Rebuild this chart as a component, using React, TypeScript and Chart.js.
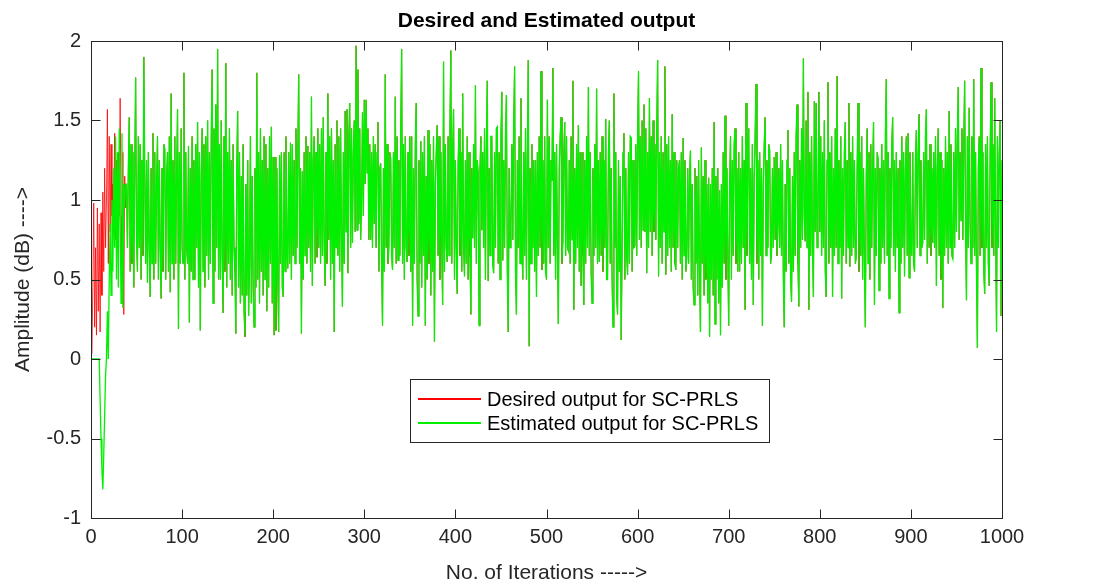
import React, { useEffect, useRef } from "react";
import { Chart, registerables } from "chart.js";

Chart.register(...registerables);

const chartTitle = "Desired and Estimated output";
const xAxisTitle = "No. of Iterations ----->";
const yAxisTitle = "Amplitude (dB) ---->";
const desiredLabel = "Desired output for SC-PRLS";
const estimatedLabel = "Estimated output for SC-PRLS";

const xTickValues = [0, 100, 200, 300, 400, 500, 600, 700, 800, 900, 1000];
const xTickLabels = ["0", "100", "200", "300", "400", "500", "600", "700", "800", "900", "1000"];
const yTickValues = [-1, -0.5, 0, 0.5, 1, 1.5, 2];
const yTickLabels = ["-1", "-0.5", "0", "0.5", "1", "1.5", "2"];

// Desired output, iterations 1..1000
const desired = [
  0.03,0.45,0.98,0.2,0.7,0.15,0.95,0.3,0.85,0.17,
  0.92,0.4,1.05,0.55,1.2,0.7,1.0,1.57,0.6,1.4,
  0.8,1.35,0.9,1.1,0.95,1.42,0.75,1.25,0.85,1.3,
  0.9,1.64,0.9,0.6,1.3,0.28,1.15,0.95,1.1,0.7,
  1.2,1.52,0.55,1.35,0.6,1.3,0.45,1.2,1.77,0.75,
  0.55,1.4,0.7,1.35,0.5,1.25,0.65,1.9,1.15,0.6,
  1.25,0.48,1.3,0.7,0.39,1.2,0.6,1.42,0.5,1.3,
  0.6,1.1,1.4,0.5,1.25,0.7,0.38,1.2,0.55,1.35,
  1.32,0.5,1.15,1.3,0.55,1.4,0.42,1.67,0.6,1.25,
  0.5,1.4,0.6,1.15,1.57,0.19,1.3,0.6,1.45,0.7,
  0.6,1.8,0.5,1.3,0.7,0.6,1.34,0.23,1.2,0.55,
  1.4,0.5,1.25,0.5,1.35,0.7,1.49,0.45,1.3,0.18,
  1.15,1.45,0.55,1.35,0.45,1.4,0.65,1.5,0.5,1.3,
  0.6,1.4,1.82,0.35,1.45,0.55,1.6,0.7,1.95,0.5,
  1.35,0.5,1.5,0.65,0.29,1.4,0.55,1.86,0.45,1.3,
  0.6,1.45,0.5,1.25,0.4,1.35,0.7,0.55,0.16,1.2,
  1.56,0.45,1.3,0.35,1.15,0.4,1.35,0.3,0.14,1.1,
  0.4,1.25,0.27,0.6,1.4,0.35,1.15,0.45,0.2,1.2,
  0.45,1.8,0.5,1.3,0.35,1.45,0.55,1.25,0.4,1.4,
  0.5,1.35,0.3,1.2,0.45,1.4,0.6,1.46,0.35,1.27,
  0.15,1.27,0.18,1.2,0.5,0.17,1.28,0.6,1.3,0.45,
  0.39,1.3,0.55,1.4,0.7,0.57,1.3,0.6,1.36,0.5,
  1.35,0.65,1.25,0.6,1.45,0.7,1.3,1.79,0.6,1.2,
  0.16,1.18,0.5,1.3,0.65,1.4,0.6,1.34,0.7,1.3,
  0.55,1.65,0.46,1.25,1.4,0.6,1.3,0.64,1.45,0.7,
  1.35,0.6,1.45,0.65,1.52,0.7,0.46,1.3,0.6,1.67,
  0.75,1.4,0.5,1.45,0.6,1.25,0.17,1.35,0.7,1.5,
  0.65,1.4,0.55,1.45,0.75,0.33,1.3,0.6,1.56,0.8,
  1.57,0.54,1.4,1.61,0.7,1.45,0.73,1.3,1.5,0.8,
  1.97,0.81,1.82,0.85,1.45,0.75,0.98,1.55,0.9,1.63,
  1.1,1.63,1.17,1.45,0.75,1.35,0.75,1.3,0.7,1.4,
  0.85,1.35,0.7,1.3,1.49,0.55,1.2,1.23,0.6,0.21,
  1.2,0.55,1.79,0.7,1.35,0.6,0.71,1.3,1.26,0.65,
  0.56,1.3,0.7,1.65,0.6,1.4,0.62,1.25,0.65,1.45,
  1.95,0.6,1.35,0.5,1.4,0.7,0.61,1.3,0.65,1.4,
  0.55,1.4,0.21,1.2,0.6,1.35,1.61,0.5,0.27,1.25,
  0.6,1.37,0.45,1.3,0.65,1.4,0.21,1.15,0.5,1.44,
  0.6,1.35,0.4,1.25,0.55,1.4,0.11,1.1,1.3,1.47,
  0.65,1.4,0.5,1.3,0.7,0.34,1.87,0.55,1.35,0.7,
  0.61,1.4,0.65,1.45,1.94,0.6,1.3,1.57,0.5,1.25,
  0.7,0.41,1.23,1.45,0.65,1.3,0.55,1.67,0.7,0.52,
  1.25,0.6,1.4,0.5,1.3,0.65,0.28,1.2,0.76,1.35,
  0.7,1.72,0.6,1.25,1.17,0.21,1.2,1.4,0.81,1.3,
  0.7,1.45,0.5,1.3,1.75,0.49,1.2,0.65,1.4,1.4,
  0.6,0.54,1.3,0.7,1.45,1.46,0.6,1.3,0.5,1.4,
  1.68,0.62,1.25,0.7,1.4,1.66,0.55,0.17,1.2,0.7,
  0.85,1.35,0.75,1.5,1.84,0.55,0.28,1.25,0.7,1.4,
  0.6,1.64,0.7,0.5,1.3,0.65,1.45,0.5,1.25,1.88,
  0.08,1.2,0.6,1.35,0.7,1.25,0.55,1.25,0.39,1.3,
  0.65,1.4,0.7,1.81,0.56,1.25,0.6,1.4,0.55,0.5,
  1.63,0.7,1.4,0.6,1.25,1.12,1.83,0.65,1.3,0.5,
  1.35,0.7,0.22,1.2,1.4,1.52,0.6,0.74,1.3,1.49,
  0.65,1.4,0.7,0.68,1.25,0.6,1.4,0.75,1.75,0.31,
  1.2,0.6,1.35,0.7,1.47,0.55,1.3,0.46,1.3,0.65,
  0.34,1.25,0.6,1.4,0.7,1.71,0.65,1.3,0.55,0.35,
  1.2,0.65,1.35,0.7,1.7,0.6,1.25,0.61,1.3,0.65,
  1.4,0.55,1.25,0.7,1.51,0.5,0.5,1.3,1.5,0.6,
  1.2,0.5,0.2,1.67,0.7,1.3,0.4,0.28,1.25,0.55,
  1.15,0.12,0.7,1.3,1.42,0.5,1.2,0.65,0.53,1.3,
  0.6,1.4,1.39,0.55,1.25,0.7,0.71,1.35,0.65,1.4,
  1.81,0.75,1.4,0.7,1.5,0.81,1.6,0.8,1.45,0.54,
  1.3,0.7,1.64,0.8,1.4,0.65,1.5,0.8,1.35,0.75,
  1.45,1.88,0.52,1.3,0.7,1.4,0.6,1.3,0.8,1.84,
  0.53,1.35,0.65,1.4,0.7,1.25,0.55,1.54,0.7,1.3,
  0.6,0.56,1.25,0.7,1.2,1.25,0.6,1.3,0.5,1.39,
  0.65,1.25,0.55,0.64,1.2,0.6,1.15,1.31,0.5,1.1,
  0.45,0.34,1.2,0.6,1.15,0.4,1.25,0.55,0.17,1.33,
  0.6,1.15,0.4,1.25,0.5,1.1,0.35,1.14,0.14,1.1,
  0.5,1.2,0.4,1.49,0.22,1.15,0.5,1.2,0.35,1.06,
  0.15,1.1,0.45,1.3,0.6,1.53,0.5,1.2,0.65,0.21,
  1.1,1.4,0.5,1.25,0.65,1.35,1.45,0.6,1.2,0.55,
  1.3,0.55,1.2,0.6,1.4,0.7,1.25,0.31,1.61,0.65,
  1.3,1.45,0.6,1.2,0.5,1.35,0.34,1.15,1.4,1.73,
  0.6,1.25,0.5,1.3,0.65,1.2,0.21,1.1,1.35,1.52,
  0.65,1.25,0.7,1.35,1.31,0.6,0.66,1.2,0.7,1.27,
  0.75,1.3,0.65,0.81,1.2,0.7,1.35,0.65,1.25,0.5,
  0.2,1.1,0.55,1.25,1.44,0.6,1.2,0.5,0.36,1.15,
  0.55,1.3,0.65,1.4,1.6,0.6,0.33,1.25,0.7,1.45,
  0.75,1.89,0.9,0.74,1.5,0.7,1.68,0.31,1.3,0.65,
  1.4,0.7,0.39,1.62,0.8,1.61,0.7,0.86,1.68,0.8,
  1.4,0.65,1.3,0.7,1.5,0.55,0.39,1.25,1.74,0.6,
  1.3,0.7,1.4,0.39,1.2,0.65,1.45,0.7,1.78,0.6,
  1.25,0.7,1.4,0.38,1.2,0.65,1.3,1.49,0.6,1.25,
  0.7,1.61,0.58,1.3,0.65,1.4,0.7,1.25,0.6,0.64,
  1.2,1.61,0.55,1.3,0.65,1.4,0.5,1.2,0.6,0.2,
  1.15,1.45,0.6,1.3,0.5,1.35,0.7,1.2,1.49,0.34,
  1.2,0.65,1.3,1.26,0.43,1.2,0.6,1.35,0.7,1.25,
  0.6,1.4,1.76,0.65,1.3,0.38,1.2,0.7,1.35,1.52,
  0.65,1.25,0.55,1.3,0.7,1.2,0.29,1.25,0.6,1.4,
  0.7,1.3,0.52,1.2,1.4,0.65,1.42,0.51,1.3,0.7,
  0.65,1.3,0.6,0.55,1.25,1.44,0.7,1.3,1.54,0.65,
  1.25,0.7,0.73,1.3,0.75,1.4,1.57,0.6,1.25,0.7,
  1.35,0.65,1.2,0.73,1.3,0.7,1.4,0.46,1.2,1.45,
  0.65,1.3,0.5,1.25,0.32,1.2,0.65,1.4,0.7,1.3,
  0.6,1.56,0.7,1.35,0.65,0.63,1.3,0.7,1.45,0.8,
  1.4,1.71,0.75,1.3,0.87,1.45,0.75,1.35,1.75,0.8,
  0.37,1.4,0.7,1.58,0.85,0.6,1.4,0.7,1.76,0.65,
  1.3,0.55,0.07,1.2,1.4,0.65,1.83,0.7,1.3,0.55,
  0.41,1.35,0.7,1.4,0.6,0.46,1.3,1.74,0.7,1.35,
  0.65,1.64,0.8,0.17,1.4,0.7,1.3,1.5,0.27,1.25,
];

// Estimated output: the start-up transient (iterations 1..38) read separately,
// afterwards it lies on the desired output.
const estimatedStart = [
  0,0,0,0,0,0,0,0,0,-0.25,
  -0.5,-0.7,-0.82,-0.6,-0.35,-0.1,0.0,0.3,0.0,0.5,
  0.85,0.4,1.0,0.55,1.2,0.7,1.4,0.5,1.3,0.45,
  1.45,0.9,0.35,1.42,0.32,1.1,0.95,1.1,
];
const estimated = estimatedStart.concat(desired.slice(estimatedStart.length));

const FONT = '"Liberation Sans", Arial, Helvetica, sans-serif';

const matlabAxes = {
  id: "matlabAxes",
  afterDraw(chart: any) {
    const { ctx, chartArea: a, scales } = chart;
    ctx.save();
    ctx.strokeStyle = "#262626";
    ctx.lineWidth = 1;
    const L = Math.round(a.left) + 0.5, R = Math.round(a.right) + 0.5;
    const T = Math.round(a.top) + 0.5, B = Math.round(a.bottom) + 0.5;
    ctx.strokeRect(L, T, R - L, B - T);
    const tl = 9;
    ctx.beginPath();
    xTickValues.forEach((v) => {
      const px = Math.round(scales.x.getPixelForValue(v)) + 0.5;
      ctx.moveTo(px, B); ctx.lineTo(px, B - tl);
      ctx.moveTo(px, T); ctx.lineTo(px, T + tl);
    });
    yTickValues.forEach((v) => {
      const py = Math.round(scales.y.getPixelForValue(v)) + 0.5;
      ctx.moveTo(L, py); ctx.lineTo(L + tl, py);
      ctx.moveTo(R, py); ctx.lineTo(R - tl, py);
    });
    ctx.stroke();

    // title
    ctx.fillStyle = "#000";
    ctx.font = `bold 21px ${FONT}`;
    ctx.textAlign = "center";
    ctx.textBaseline = "middle";
    ctx.fillText(chartTitle, (a.left + a.right) / 2, 21);

    // legend
    const bx = 410.5, by = 379.5, bw = 359, bh = 63;
    ctx.fillStyle = "#fff";
    ctx.fillRect(bx, by, bw, bh);
    ctx.strokeStyle = "#262626";
    ctx.strokeRect(bx, by, bw, bh);
    ctx.font = `20px ${FONT}`;
    ctx.textAlign = "left";
    const rows = [399, 423];
    chart.data.datasets.forEach((ds: any, i: number) => {
      const y = rows[i];
      ctx.strokeStyle = ds.borderColor;
      ctx.lineWidth = 2;
      ctx.beginPath();
      ctx.moveTo(418, y); ctx.lineTo(481, y);
      ctx.stroke();
      ctx.fillStyle = "#000";
      ctx.fillText(ds.label, 487, y + 1);
    });
    ctx.restore();
  },
};

export default function App() {
  const ref = useRef<HTMLCanvasElement | null>(null);
  useEffect(() => {
    document.body.style.margin = "0";
    const canvas = ref.current!;
    const chart = new Chart(canvas, {
      type: "line",
      data: {
        datasets: [
          {
            label: desiredLabel,
            data: desired.map((v, i) => ({ x: i + 1, y: v })),
            borderColor: "#ff0000",
            borderWidth: 0.8,
            pointRadius: 0,
            tension: 0,
            order: 1,
          },
          {
            label: estimatedLabel,
            data: estimated.map((v, i) => ({ x: i + 1, y: v })),
            borderColor: "#00f000",
            borderWidth: 1.3,
            pointRadius: 0,
            tension: 0,
            order: 0,
          },
        ],
      },
      options: {
        animation: false,
        responsive: false,
        events: [],
        layout: { padding: { top: 41, right: 96, left: 0, bottom: 0 } },
        plugins: { legend: { display: false }, tooltip: { enabled: false }, title: { display: false } },
        scales: {
          x: {
            type: "linear",
            min: 0,
            max: 1000,
            afterBuildTicks: (s: any) => { s.ticks = xTickValues.map((v) => ({ value: v })); },
            afterFit: (s: any) => { s.height = 64; },
            grid: { display: false, drawTicks: false },
            border: { display: false },
            ticks: {
              color: "#262626",
              font: { family: FONT, size: 20 },
              padding: 7,
              maxRotation: 0,
              callback: (v: any) => xTickLabels[xTickValues.indexOf(Number(v))] ?? "",
            },
            title: { display: true, text: xAxisTitle, color: "#262626", font: { family: FONT, size: 21 }, padding: { top: 0, bottom: -4 } },
          },
          y: {
            type: "linear",
            min: -1,
            max: 2,
            afterBuildTicks: (s: any) => { s.ticks = yTickValues.map((v) => ({ value: v })); },
            afterFit: (s: any) => { s.width = 91; },
            grid: { display: false, drawTicks: false },
            border: { display: false },
            ticks: {
              color: "#262626",
              font: { family: FONT, size: 20 },
              padding: 10,
              callback: (v: any) => yTickLabels[yTickValues.indexOf(Number(v))] ?? "",
            },
            title: { display: true, text: yAxisTitle, color: "#262626", font: { family: FONT, size: 21 }, padding: { top: 11 } },
          },
        },
      },
      plugins: [matlabAxes],
    });
    return () => chart.destroy();
  }, []);
  return (
    <div style={{ width: 1098, height: 582, background: "#fff" }}>
      <canvas ref={ref} width={1098} height={582} style={{ display: "block" }} />
    </div>
  );
}
